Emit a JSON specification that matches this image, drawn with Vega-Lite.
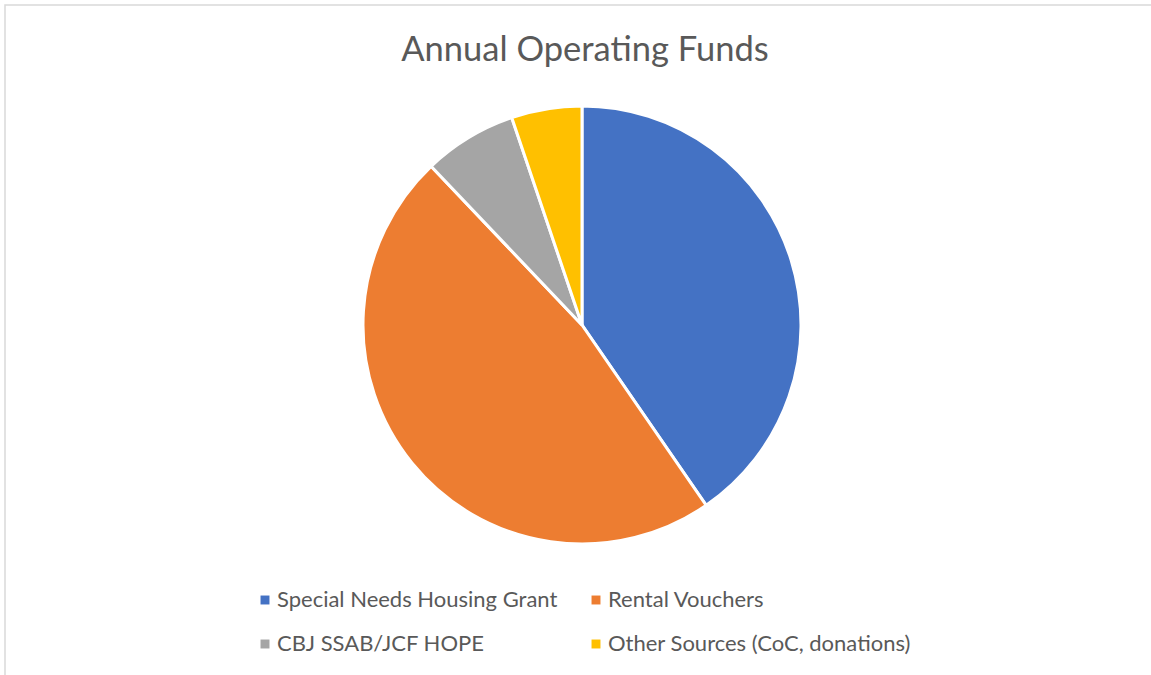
{
  "$schema": "https://vega.github.io/schema/vega-lite/v6.json",
  "autosize": {"type": "none"},
  "width": 1160,
  "height": 700,
  "padding": {"left": 5, "top": 5, "right": 0, "bottom": 0},
  "background": "white",
  "view": {"stroke": "#d9d9d9", "strokeWidth": 1.5, "fill": "white"},
  "config": {
    "view": {"stroke": "#d9d9d9", "strokeWidth": 1.5},
    "font": "Lato"
  },
  "title": {
    "text": "Annual Operating Funds",
    "font": "Lato",
    "fontSize": 34.5,
    "fontWeight": "normal",
    "color": "#595959",
    "anchor": "middle",
    "offset": -63
  },
  "data": {
    "values": [
      {"source": "Special Needs Housing Grant", "share": 40.4, "order": 1},
      {"source": "Rental Vouchers", "share": 47.5, "order": 2},
      {"source": "CBJ SSAB/JCF HOPE", "share": 6.9, "order": 3},
      {"source": "Other Sources (CoC, donations)", "share": 5.2, "order": 4}
    ]
  },
  "mark": {"type": "arc", "radius": 219, "stroke": "white", "strokeWidth": 3, "xOffset": -3, "yOffset": -30},
  "encoding": {
    "theta": {"field": "share", "type": "quantitative", "stack": true},
    "order": {"field": "order", "type": "quantitative"},
    "color": {
      "field": "source",
      "type": "nominal",
      "sort": ["Special Needs Housing Grant", "Rental Vouchers", "CBJ SSAB/JCF HOPE", "Other Sources (CoC, donations)"],
      "scale": {
        "domain": ["Special Needs Housing Grant", "Rental Vouchers", "CBJ SSAB/JCF HOPE", "Other Sources (CoC, donations)"],
        "range": ["#4472C4", "#ED7D31", "#A5A5A5", "#FFC000"]
      },
      "legend": {
        "title": null,
        "orient": "none",
        "legendX": 249,
        "legendY": 584,
        "direction": "horizontal",
        "columns": 2,
        "columnPadding": 27,
        "rowPadding": 22,
        "padding": 0,
        "symbolType": "square",
        "symbolSize": 80,
        "symbolStrokeWidth": 0,
        "labelFont": "Lato",
        "labelFontSize": 22,
        "labelColor": "#595959",
        "labelOffset": 1,
        "labelLimit": 500
      }
    }
  }
}
